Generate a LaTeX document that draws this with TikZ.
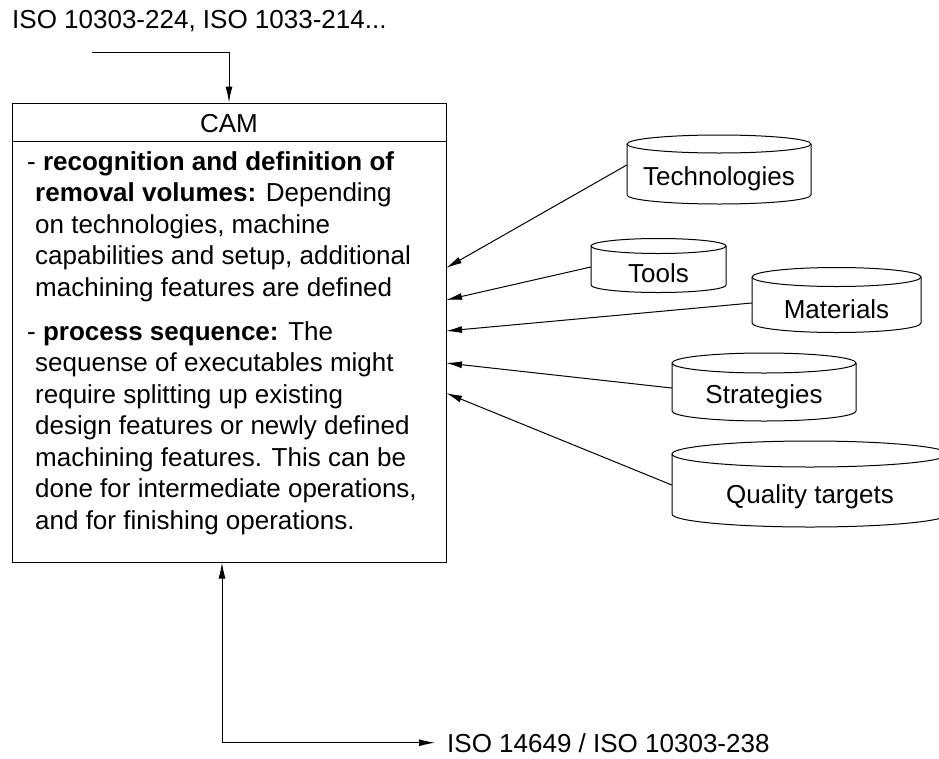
\documentclass[tikz,border=0pt]{standalone}
\usepackage{fontspec}
\setmainfont{Liberation Sans}
\usetikzlibrary{arrows.meta}

% database cylinder: #1 name, #2 left, #3 right, #4 centre y of top ellipse,
% #5 ellipse y radius, #6 y where the sides end, #7 label
\newcommand{\dbcylinder}[7]{%
  \pgfmathsetmacro{\cylrx}{(#3-#2)/2}%
  \pgfmathsetmacro{\cylcx}{(#2+#3)/2}%
  \pgfmathsetmacro{\cylmy}{(#4+#6)/2+#5}%
  \pgfmathsetmacro{\cylh}{#6-#4}%
  \draw[outline] (#2,#4) -- (#2,#6)
     arc[start angle=180, end angle=0, x radius=\cylrx, y radius=#5] -- (#3,#4);
  \draw[outline] (\cylcx,#4) ellipse[x radius=\cylrx, y radius=#5];
  \node[cylbody, minimum width=#3-#2, minimum height=\cylh] (#1) at (\cylcx,\cylmy) {#7};%
}

\begin{document}
\begin{tikzpicture}[x=1pt, y=-1pt,
  every node/.style={font=\fontsize{26}{31.5}\selectfont},
  outline/.style={draw=black, line width=1pt},
  cylbody/.style={inner sep=0pt},
  tip/.style={Latex[length=16pt,width=7pt]},
  arr/.style={line width=1pt, -{Latex[length=16pt,width=7pt]}},
  arrboth/.style={line width=1pt, {Latex[length=16pt,width=7pt]}-{Latex[length=16pt,width=7pt]}},
  label/.style={inner sep=0pt, anchor=base west}]

\clip (0,0) rectangle (939,758);
\fill[white] (0,0) rectangle (939,758);

% CAM block: header and body
\node[outline, minimum width=434, minimum height=38, inner sep=0pt] (camhead) at (229,122) {};
\node[inner sep=0pt, anchor=base] (camtitle) at (229,132) {CAM};
\node[outline, minimum width=434, minimum height=421, inner sep=0pt] (cam) at (229,351.5) {};

% the base anchor of a multi-line node sits on its last line
\node[label, align=left] (volumes) at (27,296)
  {- \textbf{recognition and definition of}\\
   \hspace*{8pt}\textbf{removal volumes:} Depending\\
   \hspace*{8pt}on technologies, machine\\
   \hspace*{8pt}capabilities and setup, additional\\
   \hspace*{8pt}machining features are defined};
\node[label, align=left] (sequence) at (27,529)
  {- \textbf{process sequence:} The\\
   \hspace*{8pt}sequense of executables might\\
   \hspace*{8pt}require splitting up existing\\
   \hspace*{8pt}design features or newly defined\\
   \hspace*{8pt}machining features. This can be\\
   \hspace*{8pt}done for intermediate operations,\\
   \hspace*{8pt}and for finishing operations.};

% inputs and output
\node[label] (isoin) at (12,28) {ISO 10303-224, ISO 1033-214...};
\coordinate (isoinend) at (92,52);
\node[inner xsep=12pt, inner ysep=0pt, anchor=base west] (isoout) at (435,752) {ISO 14649 / ISO 10303-238};

\draw[arr] (isoinend) -| (camhead.north);
\draw[arrboth] ([xshift=-7pt]cam.south) |- (isoout.west);

% resources
\dbcylinder{tech}{627}{811}{144}{9}{195}{Technologies}
\dbcylinder{tools}{591}{726}{246}{7.5}{285}{Tools}
\dbcylinder{materials}{752}{921}{277}{9.5}{323}{Materials}
\dbcylinder{strategies}{672}{856}{363}{10}{411}{Strategies}
\dbcylinder{quality}{672}{948}{454}{13}{514}{Quality targets}

% entry points on the right side of the CAM block
\coordinate (in1) at (446,268);
\coordinate (in2) at (446,300);
\coordinate (in3) at (446,331);
\coordinate (in4) at (446,363);
\coordinate (in5) at (446,393);

\draw[arr] ([yshift=13.5pt]tech.west) -- (in1);
\draw[arr] ([yshift=6pt]tools.west) -- (in2);
\draw[arr] ([yshift=6.5pt]materials.west) -- (in3);
\draw[arr] ([yshift=9pt]strategies.west) -- (in4);
\draw[arr] ([yshift=12pt]quality.west) -- (in5);
\end{tikzpicture}
\end{document}
